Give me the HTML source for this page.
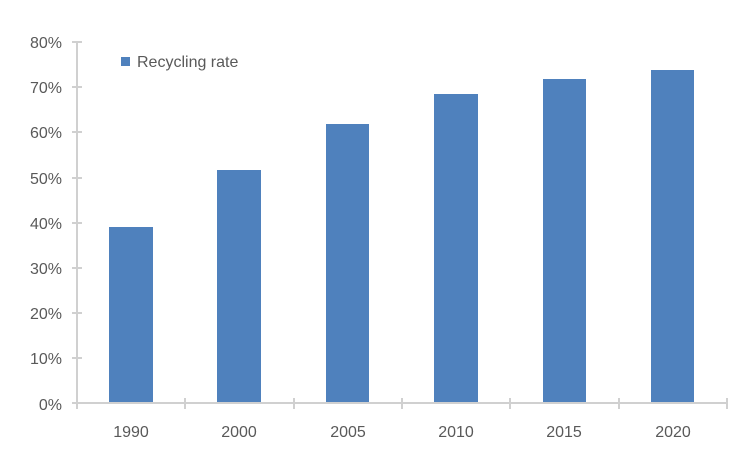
<!DOCTYPE html>
<html><head><style>
html,body{margin:0;padding:0;background:#fff;}
text{font-family:"Liberation Sans",sans-serif;fill:#595959;font-size:16px;}
</style></head><body>
<svg width="749" height="450" xmlns="http://www.w3.org/2000/svg">
<g stroke="#d0d0d0" stroke-width="2">
<line x1="77" y1="42" x2="77" y2="403"/>
<line x1="72" y1="403" x2="727" y2="403"/>
<line x1="72" y1="42" x2="82" y2="42"/>
<line x1="72" y1="87" x2="82" y2="87"/>
<line x1="72" y1="132" x2="82" y2="132"/>
<line x1="72" y1="178" x2="82" y2="178"/>
<line x1="72" y1="223" x2="82" y2="223"/>
<line x1="72" y1="268" x2="82" y2="268"/>
<line x1="72" y1="313" x2="82" y2="313"/>
<line x1="72" y1="358" x2="82" y2="358"/>
<line x1="77" y1="398" x2="77" y2="409"/>
<line x1="185" y1="398" x2="185" y2="409"/>
<line x1="294" y1="398" x2="294" y2="409"/>
<line x1="402" y1="398" x2="402" y2="409"/>
<line x1="510" y1="398" x2="510" y2="409"/>
<line x1="619" y1="398" x2="619" y2="409"/>
<line x1="727" y1="398" x2="727" y2="409"/>
</g>
<g fill="#4f81bd">
<rect x="109" y="227" width="44" height="175"/>
<rect x="217" y="170" width="44" height="232"/>
<rect x="326" y="124" width="43" height="278"/>
<rect x="434" y="94" width="44" height="308"/>
<rect x="543" y="79" width="43" height="323"/>
<rect x="651" y="70" width="43" height="332"/>
<rect x="121" y="57" width="9" height="9"/>
</g>
<text x="137" y="67">Recycling rate</text>
<g text-anchor="end">
<text x="62" y="48">80%</text>
<text x="62" y="93">70%</text>
<text x="62" y="138">60%</text>
<text x="62" y="184">50%</text>
<text x="62" y="229">40%</text>
<text x="62" y="274">30%</text>
<text x="62" y="319">20%</text>
<text x="62" y="364">10%</text>
<text x="62" y="410">0%</text>
</g>
<g text-anchor="middle">
<text x="131" y="437">1990</text>
<text x="239" y="437">2000</text>
<text x="348" y="437">2005</text>
<text x="456" y="437">2010</text>
<text x="564" y="437">2015</text>
<text x="673" y="437">2020</text>
</g>
</svg>
</body></html>
